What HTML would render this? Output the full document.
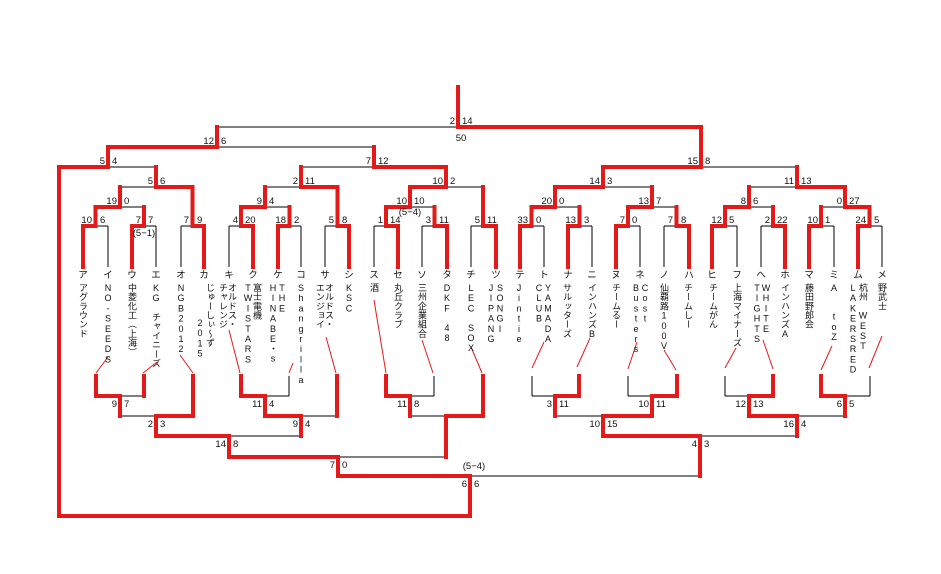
<!DOCTYPE html>
<html><head><meta charset="utf-8">
<style>
html,body{margin:0;padding:0;background:#fff;}
#w{position:relative;width:941px;height:574px;overflow:hidden;font-family:"Liberation Sans","Noto Sans CJK JP",sans-serif;}
svg{position:absolute;left:0;top:0;}
.v{position:absolute;writing-mode:vertical-rl;text-orientation:upright;font-size:9px;line-height:10px;width:10px;letter-spacing:0.2px;color:#111;white-space:nowrap;}
.k{position:absolute;font-size:9.5px;width:16px;text-align:center;top:267px;color:#111;}
</style></head><body><div id="w">
<svg width="941" height="574" font-family="Liberation Sans, sans-serif" font-size="9.5" fill="#111">
<g stroke="#000" stroke-width="1" fill="none">
<path d="M83,226V267M108,226V267M132,226V267M156,226V267M181,226V267M204,226V267M229,226V267M253,226V267M278,226V267M301,226V267M325,226V267M349,226V267M374,226V267M398,226V267M422,226V267M447,226V267M471,226V267M496,226V267M520,226V267M544,226V267M568,226V267M592,226V267M616,226V267M640,226V267M664,226V267M689,226V267M712,226V267M737,226V267M761,226V267M785,226V267M809,226V267M834,226V267M858,226V267M882,226V267"/>
<path d="M83,226H108M132,226H156M181,226H204M229,226H253M278,226H301M325,226H349M374,226H398M422,226H447M471,226H496M520,226H544M568,226H592M616,226H640M664,226H689M712,226H737M761,226H785M809,226H834M858,226H882"/>
<path d="M95.5,207H144M241,207H289.5M386,207H434.5M531.5,207H579.5M628,207H676.5M725,207H773M821,207H869.5"/>
<path d="M120,187H192.5M265,187H337.5M410,187H483M555,187H652M749,187H845"/>
<path d="M59,167H156M301,167H446M603,167H797M108,147H374M217,127H701"/>
<path d="M289,376V396M434,376V396M532,376V396M628,376V396M725,376V396M870,376V396"/>
<path d="M96,396H144M241,396H289M386,396H434M532,396H579M628,396H677M725,396H773M821,396H870"/>
<path d="M120,416H193M265,416H337M410,416H483M555,416H652M749,416H845M156,436H301M603,436H797M229,457H446M338,476H700"/>
</g>
<g stroke="#e21a1a" stroke-width="1" fill="none">
<path d="M108,357L96,373M157,362L143,373M180,355L193,373M229,330L240,373M293,363L289,373M326,337L336,373M374,300L386,373M422,340L433,373M471,347L482,373M544,342L532,368M590,338L577,367M637,342L628,369M664,350L676,370M736,348L725,368M763,340L773,369M832,346L821,370M882,336L869,368"/>
</g>
<g stroke="#e21a1a" stroke-width="4" fill="none" stroke-linejoin="miter" stroke-linecap="square">
<polyline points="83,267 83,226 95.5,226 95.5,207 120,207 120,187"/>
<polyline points="132,267 132,226 144,226 144,207"/>
<polyline points="204,267 204,226 192.5,226 192.5,187 156,187 156,167"/>
<polyline points="253,267 253,226 241,226 241,207 265,207 265,187"/>
<polyline points="278,267 278,226 289.5,226 289.5,207"/>
<polyline points="349,267 349,226 337.5,226 337.5,187 301,187 301,167"/>
<polyline points="398,267 398,226 386,226 386,207 410,207 410,187 446,187 446,167 374,167 374,147"/>
<polyline points="447,267 447,226 434.5,226 434.5,207"/>
<polyline points="496,267 496,226 483,226 483,187"/>
<polyline points="520,267 520,226 531.5,226 531.5,207 555,207 555,187 603,187 603,167 701,167 701,127 458,127"/>
<polyline points="458,87 458,127"/>
<polyline points="568,267 568,226 579.5,226 579.5,207"/>
<polyline points="616,267 616,226 628,226 628,207 652,207 652,187"/>
<polyline points="689,267 689,226 676.5,226 676.5,207"/>
<polyline points="712,267 712,226 725,226 725,207 749,207 749,187"/>
<polyline points="785,267 785,226 773,226 773,207"/>
<polyline points="809,267 809,226 821,226 821,207"/>
<polyline points="858,267 858,226 869.5,226 869.5,207 845,207 845,187 797,187 797,167"/>
<polyline points="108,167 108,147 217,147 217,127"/>
<polyline points="108,167 59,167 59,516 470,516 470,476 338,476 338,457 229,457 229,436 156,436 156,416 193,416 193,376"/>
<polyline points="96,376 96,396 120,396 120,416"/>
<polyline points="144,376 144,396"/>
<polyline points="241,376 241,396 265,396 265,416 301,416 301,436"/>
<polyline points="337,376 337,416"/>
<polyline points="386,376 386,396 410,396 410,416"/>
<polyline points="483,376 483,416 446,416 446,457"/>
<polyline points="579,376 579,396 555,396 555,416"/>
<polyline points="677,376 677,396 652,396 652,416 603,416 603,436 700,436 700,476"/>
<polyline points="773,376 773,396 749,396 749,416 797,416 797,436"/>
<polyline points="821,376 821,396 845,396 845,416"/>
</g>
<g text-anchor="end">
<text x="92" y="223">10</text><text x="141" y="223">7</text><text x="189" y="223">7</text><text x="238" y="223">4</text><text x="286" y="223">18</text><text x="334" y="223">5</text><text x="383" y="223">1</text><text x="431" y="223">3</text><text x="480" y="223">5</text><text x="528" y="223">33</text><text x="576" y="223">13</text><text x="625" y="223">7</text><text x="673" y="223">7</text><text x="722" y="223">12</text><text x="770" y="223">2</text><text x="818" y="223">10</text><text x="866" y="223">24</text>
<text x="117" y="204">19</text><text x="262" y="204">9</text><text x="407" y="204">10</text><text x="552" y="204">20</text><text x="649" y="204">13</text><text x="746" y="204">8</text><text x="842" y="204">0</text>
<text x="153" y="184">5</text><text x="298" y="184">2</text><text x="443" y="184">10</text><text x="600" y="184">14</text><text x="794" y="184">11</text>
<text x="105" y="164">5</text><text x="371" y="164">7</text><text x="698" y="164">15</text>
<text x="214" y="144">12</text><text x="455" y="124">2</text>
<text x="117" y="407">9</text><text x="262" y="407">11</text><text x="407" y="407">11</text><text x="552" y="407">3</text><text x="649" y="407">10</text><text x="746" y="407">12</text><text x="842" y="407">6</text>
<text x="153" y="427">2</text><text x="298" y="427">9</text><text x="600" y="427">10</text><text x="794" y="427">16</text>
<text x="226" y="447">14</text><text x="697" y="447">4</text>
<text x="335" y="468">7</text><text x="467" y="487">6</text>
</g>
<g text-anchor="start">
<text x="100" y="223">6</text><text x="148" y="223">7</text><text x="197" y="223">9</text><text x="245" y="223">20</text><text x="294" y="223">2</text><text x="342" y="223">8</text><text x="390" y="223">14</text><text x="439" y="223">11</text><text x="487" y="223">11</text><text x="536" y="223">0</text><text x="584" y="223">3</text><text x="632" y="223">0</text><text x="681" y="223">8</text><text x="729" y="223">5</text><text x="777" y="223">22</text><text x="825" y="223">1</text><text x="874" y="223">5</text>
<text x="124" y="204">0</text><text x="269" y="204">4</text><text x="414" y="204">10</text><text x="559" y="204">0</text><text x="656" y="204">7</text><text x="753" y="204">6</text><text x="849" y="204">27</text>
<text x="160" y="184">6</text><text x="305" y="184">11</text><text x="450" y="184">2</text><text x="607" y="184">3</text><text x="801" y="184">13</text>
<text x="112" y="164">4</text><text x="378" y="164">12</text><text x="705" y="164">8</text>
<text x="221" y="144">6</text><text x="462" y="124">14</text>
<text x="124" y="407">7</text><text x="269" y="407">4</text><text x="414" y="407">8</text><text x="559" y="407">11</text><text x="656" y="407">11</text><text x="753" y="407">13</text><text x="849" y="407">5</text>
<text x="160" y="427">3</text><text x="305" y="427">4</text><text x="607" y="427">15</text><text x="801" y="427">4</text>
<text x="233" y="447">8</text><text x="704" y="447">3</text>
<text x="342" y="468">0</text><text x="474" y="487">6</text>
</g>
<g text-anchor="middle">
<text x="144" y="236">(5−1)</text><text x="410" y="215">(5−4)</text><text x="461" y="141">50</text><text x="474" y="469">(5−4)</text>
</g>
</svg>
<div class="k" style="left:75px">ア</div><div class="k" style="left:100px">イ</div><div class="k" style="left:124px">ウ</div><div class="k" style="left:148px">エ</div><div class="k" style="left:173px">オ</div><div class="k" style="left:196px">カ</div><div class="k" style="left:221px">キ</div><div class="k" style="left:245px">ク</div><div class="k" style="left:270px">ケ</div><div class="k" style="left:293px">コ</div><div class="k" style="left:317px">サ</div><div class="k" style="left:341px">シ</div><div class="k" style="left:366px">ス</div><div class="k" style="left:390px">セ</div><div class="k" style="left:414px">ソ</div><div class="k" style="left:439px">タ</div><div class="k" style="left:463px">チ</div><div class="k" style="left:488px">ツ</div><div class="k" style="left:512px">テ</div><div class="k" style="left:536px">ト</div><div class="k" style="left:560px">ナ</div><div class="k" style="left:584px">ニ</div><div class="k" style="left:608px">ヌ</div><div class="k" style="left:632px">ネ</div><div class="k" style="left:656px">ノ</div><div class="k" style="left:681px">ハ</div><div class="k" style="left:704px">ヒ</div><div class="k" style="left:729px">フ</div><div class="k" style="left:753px">ヘ</div><div class="k" style="left:777px">ホ</div><div class="k" style="left:801px">マ</div><div class="k" style="left:826px">ミ</div><div class="k" style="left:850px">ム</div><div class="k" style="left:874px">メ</div>
<div class="v" style="left:78px;top:283px">アグラウンド</div>
<div class="v" style="left:103px;top:283px">NO-SEEDS</div>
<div class="v" style="left:127px;top:283px">中菱化工（上海）</div>
<div class="v" style="left:151px;top:283px">KG　チャイニーズ</div>
<div class="v" style="left:176px;top:283px">NGB2012</div>
<div class="v" style="left:205px;top:283px">じゅーしぃ〜ず</div>
<div class="v" style="left:195px;top:318px">2015</div>
<div class="v" style="left:227px;top:283px">オルドス・</div>
<div class="v" style="left:218px;top:283px">チャレンジ</div>
<div class="v" style="left:252px;top:283px">富士電機</div>
<div class="v" style="left:243px;top:283px">TWISTARS</div>
<div class="v" style="left:277px;top:283px">THE</div>
<div class="v" style="left:268px;top:283px">HINABE・s</div>
<div class="v" style="left:296px;top:283px">Shangrilla</div>
<div class="v" style="left:324px;top:283px">オルドス・</div>
<div class="v" style="left:315px;top:283px">エンジョイ</div>
<div class="v" style="left:344px;top:283px">KSC</div>
<div class="v" style="left:369px;top:283px">酒</div>
<div class="v" style="left:393px;top:283px">丸丘クラブ</div>
<div class="v" style="left:417px;top:283px">三州企業組合</div>
<div class="v" style="left:442px;top:283px">DKF　48</div>
<div class="v" style="left:466px;top:283px">LEC　SOX</div>
<div class="v" style="left:495px;top:283px">SONGI</div>
<div class="v" style="left:486px;top:283px">JIPANG</div>
<div class="v" style="left:514px;top:283px">Jintie</div>
<div class="v" style="left:543px;top:283px">YAMADA</div>
<div class="v" style="left:534px;top:283px">CLUB</div>
<div class="v" style="left:562px;top:283px">サルッターズ</div>
<div class="v" style="left:587px;top:283px">インハンズB</div>
<div class="v" style="left:611px;top:283px">チームるー</div>
<div class="v" style="left:640px;top:283px">Cost</div>
<div class="v" style="left:631px;top:283px">Busters</div>
<div class="v" style="left:659px;top:283px">仙覇路100V</div>
<div class="v" style="left:683px;top:283px">チームしー</div>
<div class="v" style="left:708px;top:283px">チームがん</div>
<div class="v" style="left:732px;top:283px">上海マイナーズ</div>
<div class="v" style="left:761px;top:283px">WHITE</div>
<div class="v" style="left:752px;top:283px">TIGHTS</div>
<div class="v" style="left:780px;top:283px">インハンズA</div>
<div class="v" style="left:804px;top:283px">藤田野郎会</div>
<div class="v" style="left:829px;top:283px">A　　toZ</div>
<div class="v" style="left:858px;top:283px">杭州　WEST</div>
<div class="v" style="left:848px;top:283px">LAKERSRED</div>
<div class="v" style="left:877px;top:283px">野武士</div>
</div></body></html>
